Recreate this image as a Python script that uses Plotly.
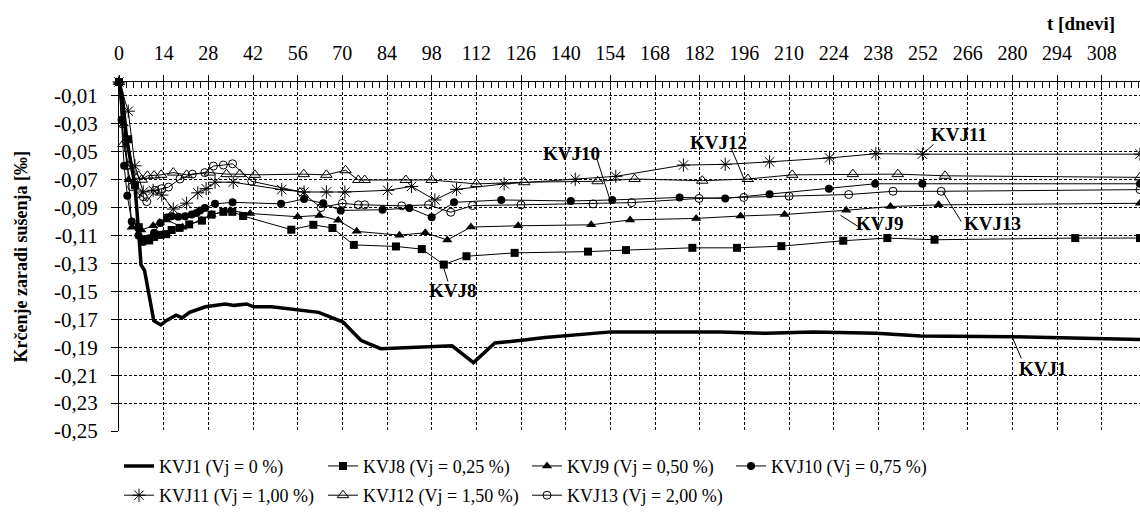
import plotly.graph_objects as go

# ---------------- data ----------------
X_TICKS = [0, 14, 28, 42, 56, 70, 84, 98, 112, 126, 140, 154, 168, 182, 196, 210, 224, 238, 252, 266, 280, 294, 308]
X_TICK_LABELS = [str(v) for v in X_TICKS]
Y_TICKS = [-0.01, -0.03, -0.05, -0.07, -0.09, -0.11, -0.13, -0.15, -0.17, -0.19, -0.21, -0.23, -0.25]
Y_TICK_LABELS = ["-0,01", "-0,03", "-0,05", "-0,07", "-0,09", "-0,11", "-0,13", "-0,15", "-0,17", "-0,19", "-0,21", "-0,23", "-0,25"]

KVJ1_T = [0, 1, 2.4, 5, 6.4, 6.9, 8, 10.9, 13.1, 14.8, 17.9, 19.8, 22.1, 27.1, 33.3, 36.1, 40, 42.2, 47.8, 55.7,
          62.6, 70.2, 75.8, 82, 96, 104.4, 111.1, 117.8, 126.2, 133.5, 154.2, 168.8, 188.3, 202.9, 217.5, 237.4, 251.3, 280.2, 320]
KVJ1_V = [0, -0.009, -0.041, -0.074, -0.115, -0.131, -0.135, -0.171, -0.174, -0.171, -0.167, -0.169, -0.165, -0.161, -0.159, -0.160, -0.159, -0.161, -0.161, -0.163,
          -0.165, -0.172, -0.185, -0.191, -0.190, -0.189, -0.201, -0.187, -0.185, -0.183, -0.179, -0.179, -0.179, -0.180, -0.179, -0.180, -0.182, -0.1825, -0.1845]

KVJ8_T = [0, 2.9, 5, 6.2, 7.6, 9.5, 11, 13, 14.8, 16.5, 19, 22, 26, 29, 32.7, 35.5, 38.9, 54, 60.9, 66.9,
          73.6, 86.8, 94.9, 101.8, 108.9, 124, 147, 158.9, 179.7, 193.7, 207.6, 227, 240.8, 255.6, 299.7, 320]
KVJ8_V = [0, -0.041, -0.074, -0.104, -0.1126, -0.1135, -0.111, -0.1095, -0.109, -0.106, -0.1045, -0.102, -0.0993, -0.095, -0.093, -0.093, -0.096, -0.1058, -0.1023, -0.1046,
          -0.1167, -0.1178, -0.1197, -0.1308, -0.1248, -0.1224, -0.1215, -0.1204, -0.1188, -0.1188, -0.1176, -0.1137, -0.1118, -0.113, -0.1118, -0.1118]

KVJ9_T = [0, 1.5, 3, 4, 7, 10.7, 12.8, 14.9, 19.9, 25.8, 29, 34.8, 41.1, 56, 62.8, 68.7, 74.5, 87.9, 96,
          102.9, 110.3, 125.1, 148, 160.2, 180.9, 194.8, 208.6, 227.9, 241.8, 256.9, 320]
KVJ9_V = [0, -0.03, -0.07, -0.104, -0.106, -0.103, -0.1007, -0.0988, -0.104, -0.0988, -0.0949, -0.0921, -0.0942, -0.0965, -0.0956, -0.0991, -0.107, -0.1097, -0.108,
          -0.1132, -0.1039, -0.103, -0.1023, -0.0988, -0.0977, -0.096, -0.0949, -0.0919, -0.0892, -0.088, -0.0869]

KVJ10_T = [0, 0.8, 1.6, 2.6, 4, 6.1, 7.6, 9.5, 11, 13, 15, 16.5, 18.6, 20.7, 22.8, 24.3, 25.4, 26.9, 30.1, 35.6,
           50.8, 58, 64, 69.5, 82.6, 91, 98, 105, 119.8, 141.6, 154.6, 175.7, 190, 203.9, 222.5, 237, 251.8, 320]
KVJ10_V = [0, -0.027, -0.060, -0.0815, -0.1, -0.110, -0.1147, -0.112, -0.108, -0.101, -0.097, -0.0961, -0.0966, -0.0961, -0.095, -0.0938, -0.092, -0.0903, -0.0873, -0.0862,
           -0.0873, -0.0838, -0.0869, -0.092, -0.0915, -0.0903, -0.0968, -0.0862, -0.0845, -0.0852, -0.0845, -0.0827, -0.0834, -0.0804, -0.0764, -0.0729, -0.0729, -0.0729]

KVJ11_T = [0, 2.9, 5, 7.6, 10.7, 13.4, 17, 21.2, 24.7, 27.3, 30.1, 35.8, 51, 58, 65, 70.8, 84.2, 91.7, 99, 105.8,
           120.7, 143, 155.7, 176.9, 190, 203.9, 222.7, 237.2, 251.8, 320]
KVJ11_V = [0, -0.0209, -0.06, -0.0788, -0.0776, -0.081, -0.091, -0.0868, -0.0794, -0.0764, -0.0718, -0.0718, -0.0771, -0.0788, -0.0788, -0.0788, -0.0776, -0.0748, -0.0845, -0.0769,
           -0.073, -0.0697, -0.0676, -0.0595, -0.059, -0.0572, -0.0544, -0.0514, -0.0517, -0.0517]

KVJ12_T = [0, 1.4, 3, 6.1, 7.1, 8.9, 11, 13.2, 17, 21.2, 28.5, 33.7, 37.9, 42.6, 57.9, 65, 71, 75, 77, 89.9,
           98, 112, 127, 150, 161.6, 182.8, 197.1, 211, 230, 244.1, 258.9, 320]
KVJ12_V = [0, -0.0444, -0.06, -0.0672, -0.070, -0.0672, -0.067, -0.0665, -0.0649, -0.0665, -0.0649, -0.066, -0.066, -0.0665, -0.066, -0.0665, -0.0632, -0.0702, -0.0702, -0.0702,
           -0.0702, -0.073, -0.0718, -0.0711, -0.0695, -0.0707, -0.0695, -0.0665, -0.066, -0.066, -0.0672, -0.0683]

KVJ13_T = [0, 1, 2.5, 4, 6, 7.6, 8.7, 11.3, 13.4, 15.5, 19.1, 23, 26.9, 29.6, 32.7, 35.6, 41.6, 57.2, 63.3, 70,
           75, 77, 88.6, 97, 104, 110.8, 126, 148.6, 160.7, 181.8, 195.8, 210, 228.7, 242.6, 257.7, 320]
KVJ13_V = [0, -0.03, -0.06, -0.075, -0.08, -0.0822, -0.0857, -0.0776, -0.0764, -0.0753, -0.0695, -0.066, -0.0649, -0.0602, -0.0595, -0.0586, -0.0711, -0.0788, -0.090, -0.0869,
           -0.088, -0.088, -0.0887, -0.088, -0.0933, -0.0885, -0.088, -0.0873, -0.0864, -0.0834, -0.0827, -0.0818, -0.0806, -0.0783, -0.0783, -0.0771]

SERIES_NAMES = ["KVJ1 (Vj = 0 %)", "KVJ8 (Vj = 0,25 %)", "KVJ9 (Vj = 0,50 %)", "KVJ10 (Vj = 0,75 %)",
                "KVJ11 (Vj = 1,00 %)", "KVJ12 (Vj = 1,50 %)", "KVJ13 (Vj = 2,00 %)"]

# label texts, label positions (t, value) and leader lines (t0, v0, t1, v1)
LABELS = ["KVJ10", "KVJ12", "KVJ11", "KVJ9", "KVJ13", "KVJ8", "KVJ1"]
LABEL_T = [141.9, 188.0, 263.3, 238.4, 273.9, 104.6, 289.5]
LABEL_V = [-0.051, -0.0431, -0.0376, -0.1013, -0.1013, -0.1496, -0.2053]
LEADERS = [(149.7, -0.0544, 153.9, -0.0845),
           (191.9, -0.0475, 196.1, -0.0706),
           (255.3, -0.0447, 251.8, -0.0517),
           (226.1, -0.0954, 232.1, -0.1042),
           (258.2, -0.0788, 264.0, -0.1000),
           (101.7, -0.1327, 103.1, -0.1428),
           (280.0, -0.1829, 282.8, -0.1980)]

FONT = "Liberation Serif, Times New Roman, serif"

fig = go.Figure()

fig.add_trace(go.Scatter(x=KVJ1_T, y=KVJ1_V, mode="lines", name=SERIES_NAMES[0],
                         line=dict(color="black", width=3.5), legend="legend"))

marker_specs = [
    (KVJ8_T, KVJ8_V, SERIES_NAMES[1], dict(symbol="square", size=8, color="black"), "legend"),
    (KVJ9_T, KVJ9_V, SERIES_NAMES[2], dict(symbol="triangle-up", size=9, color="black"), "legend"),
    (KVJ10_T, KVJ10_V, SERIES_NAMES[3], dict(symbol="circle", size=8, color="black"), "legend"),
    (KVJ11_T, KVJ11_V, SERIES_NAMES[4], dict(symbol="asterisk-open", size=11, color="black",
                                              line=dict(color="black", width=1)), "legend2"),
    (KVJ12_T, KVJ12_V, SERIES_NAMES[5], dict(symbol="triangle-up-open", size=10, color="black",
                                              line=dict(color="black", width=1)), "legend2"),
    (KVJ13_T, KVJ13_V, SERIES_NAMES[6], dict(symbol="circle-open", size=8, color="black",
                                              line=dict(color="black", width=1)), "legend2"),
]
for t, v, name, mk, lg in marker_specs:
    fig.add_trace(go.Scatter(x=t, y=v, mode="lines+markers", name=name,
                             line=dict(color="black", width=1), marker=mk,
                             legend=lg, cliponaxis=False))

grid_dash = "3px,2px"
fig.update_layout(
    width=1140, height=514,
    margin=dict(l=119, r=0, t=82, b=72),
    paper_bgcolor="white", plot_bgcolor="white",
    font=dict(family=FONT, size=20, color="black"),
    xaxis=dict(side="top", range=[0, 320], tickmode="array", tickvals=X_TICKS, ticktext=X_TICK_LABELS,
               showline=True, linecolor="black", linewidth=1,
               ticks="outside", ticklen=6, tickcolor="black", tickwidth=1,
               showgrid=True, gridcolor="black", gridwidth=1, griddash=grid_dash,
               zeroline=False, ticklabelstandoff=7,
               tickfont=dict(family=FONT, size=20, color="black"),
               minor=dict(tickmode="linear", tick0=0, dtick=14 / 6, ticks="inside", ticklen=6,
                          tickcolor="black", tickwidth=1, showgrid=False)),
    yaxis=dict(range=[-0.25, 0], tickmode="array", tickvals=Y_TICKS, ticktext=Y_TICK_LABELS,
               showline=True, linecolor="black", linewidth=1,
               ticks="outside", ticklen=7, tickcolor="black",
               showgrid=True, gridcolor="black", gridwidth=1, griddash=grid_dash,
               zeroline=False, ticklabelstandoff=9,
               tickfont=dict(family=FONT, size=21, color="black")),
    legend=dict(orientation="h", x=0, xanchor="left", y=-0.048, yanchor="top",
                entrywidth=159, entrywidthmode="pixels", bgcolor="rgba(0,0,0,0)",
                font=dict(family=FONT, size=18), traceorder="normal"),
    legend2=dict(orientation="h", x=0, xanchor="left", y=-0.133, yanchor="top",
                 entrywidth=159, entrywidthmode="pixels", bgcolor="rgba(0,0,0,0)",
                 font=dict(family=FONT, size=18), traceorder="normal"),
    showlegend=True,
)

annotations = []
for txt, lt, lv in zip(LABELS, LABEL_T, LABEL_V):
    annotations.append(dict(x=lt, y=lv, xref="x", yref="y", text=txt, showarrow=False,
                            font=dict(family=FONT, size=19, color="black", weight="bold"),
                            xanchor="center", yanchor="middle"))
annotations.append(dict(x=0.942, y=1.168, xref="paper", yref="paper", text="t [dnevi]", showarrow=False,
                        font=dict(family=FONT, size=19, color="black", weight="bold"),
                        xanchor="center", yanchor="middle"))
annotations.append(dict(x=-0.096, y=0.5, xref="paper", yref="paper", text="Krčenje zaradi sušenja [‰]",
                        showarrow=False, textangle=-90,
                        font=dict(family=FONT, size=18, color="black", weight="bold"),
                        xanchor="center", yanchor="middle"))
fig.update_layout(annotations=annotations)

shapes = []
for (t0, v0, t1, v1) in LEADERS:
    shapes.append(dict(type="line", xref="x", yref="y", x0=t0, y0=v0, x1=t1, y1=v1,
                       line=dict(color="black", width=1)))
fig.update_layout(shapes=shapes)

fig.write_html("out.html")
